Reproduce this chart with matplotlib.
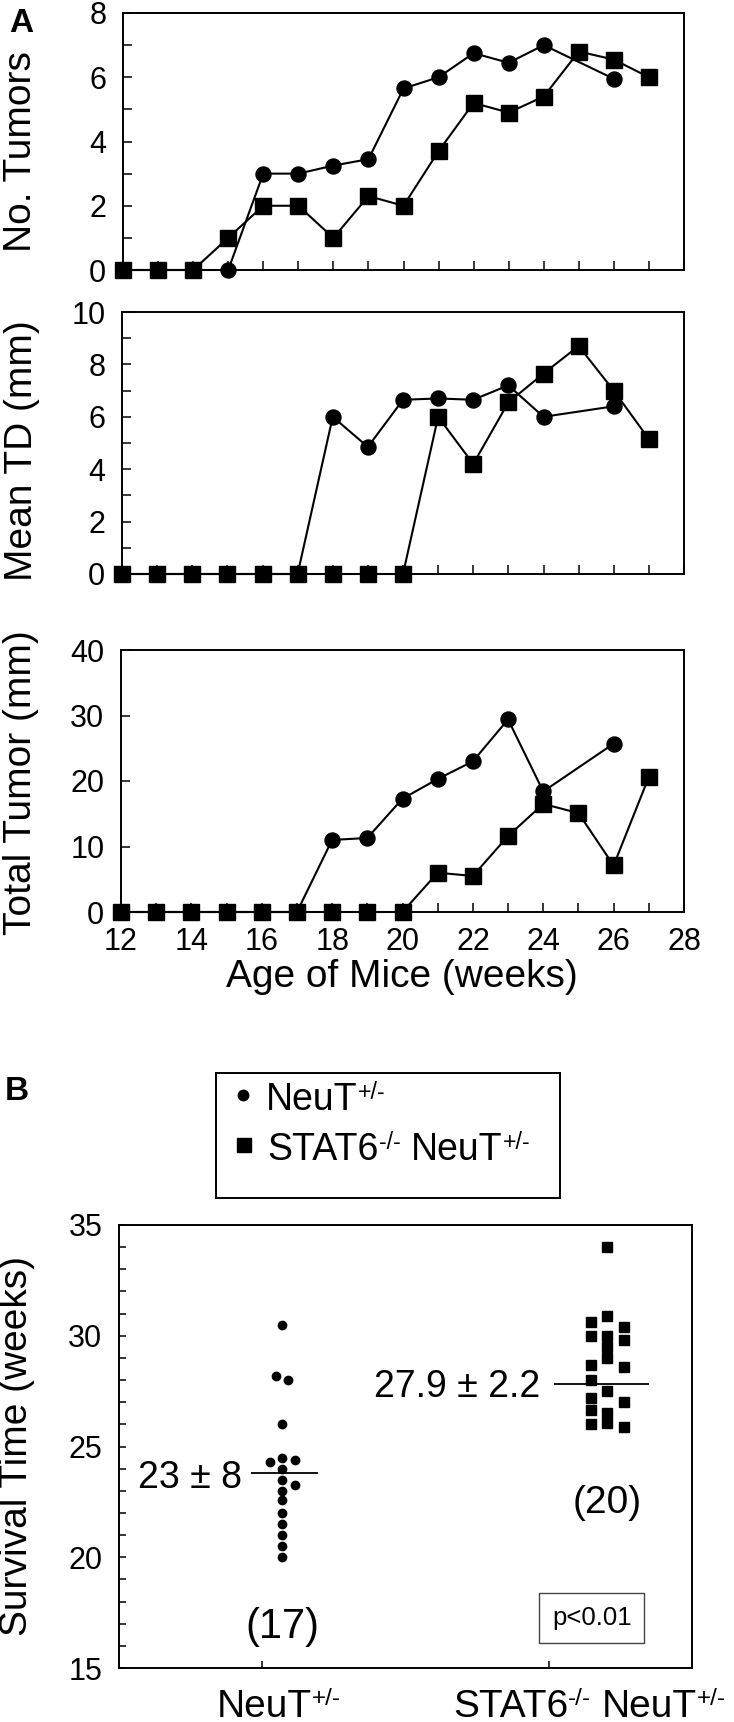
import matplotlib
matplotlib.use("Agg")
import matplotlib.pyplot as plt
from matplotlib.ticker import MultipleLocator, NullFormatter

plt.rcParams['font.family'] = ['Liberation Sans', 'DejaVu Sans']

# ---------------- data: panel A ----------------
weeks_neut = [12, 13, 14, 15, 16, 17, 18, 19, 20, 21, 22, 23, 24, 26]
weeks_stat6 = [12, 13, 14, 15, 16, 17, 18, 19, 20, 21, 22, 23, 24, 25, 26, 27]

tumors_neut = [0, 0, 0, 0, 3.0, 3.0, 3.25, 3.45, 5.65, 6.0, 6.75, 6.45, 7.0, 5.95]
tumors_stat6 = [0, 0, 0, 1.0, 2.0, 2.0, 1.0, 2.3, 2.0, 3.7, 5.2, 4.9, 5.4, 6.8, 6.55, 6.0]

td_neut = [0, 0, 0, 0, 0, 0, 6.0, 4.85, 6.65, 6.7, 6.65, 7.2, 6.0, 6.4]
td_stat6 = [0, 0, 0, 0, 0, 0, 0, 0, 0, 6.0, 4.2, 6.55, 7.65, 8.7, 7.0, 5.15]

total_neut = [0, 0, 0, 0, 0, 0, 11.0, 11.3, 17.3, 20.3, 23.0, 29.4, 18.4, 25.7]
total_stat6 = [0, 0, 0, 0, 0, 0, 0, 0, 0, 6.0, 5.5, 11.6, 16.5, 15.1, 7.1, 20.6]

panel_a_ylabels = ["No. Tumors", "Mean TD (mm)", "Total Tumor (mm)"]
panel_a_ylims = [(0, 8), (0, 10), (0, 40)]
panel_a_major = [2, 2, 10]
panel_a_minor = [1, 1, 10]
age_xlabel = "Age of Mice (weeks)"

# ---------------- data: panel B ----------------
neut_survival = [30.5, 28.2, 28.0, 26.0, 24.5, 24.3, 24.4, 24.0, 23.5, 23.25,
                 23.0, 22.6, 22.0, 21.5, 21.0, 20.5, 20.0]
stat6_survival = [34.0, 30.9, 30.6, 30.4, 30.0, 30.0, 29.8, 29.5, 29.0, 28.7,
                  28.6, 28.0, 27.5, 27.2, 27.0, 26.65, 26.5, 26.0, 26.05, 25.9]
neut_mean = 23.8
stat6_mean = 27.8
neut_text = "23 \u00b1 8"
stat6_text = "27.9 \u00b1 2.2"
neut_n = "(17)"
stat6_n = "(20)"
p_text = "p<0.01"
survival_ylabel = "Survival Time (weeks)"
# group names as (text, is_superscript) pieces
neut_label = [("NeuT", False), ("+/-", True)]
stat6_label = [("STAT6", False), ("-/-", True), ("NeuT", False), ("+/-", True)]

# layout-only (dot-plot column offsets for tied values)
neut_col = [0, -0.5, 0.5, 0, 0, -1, 1, 0, 0, 1, 0, 0, 0, 0, 0, 0, 0]
stat6_col = [0, 0, -1, 1, -1, 0, 1, 0, 0, -1, 1, -1, 0, -1, 1, -1, 0, -1, 0, 1]

W, H, DPI = 734, 1722, 100
fig = plt.figure(figsize=(W / DPI, H / DPI), dpi=DPI)


def box(l, t, r, b):
    return [l / W, 1 - b / H, (r - l) / W, (b - t) / H]


def rich_text(ax, x, y, parts, fs, transform, sup_scale=0.62, sup_frac=0.40):
    """Place base text with superscripts (hyphen-style), chained left to right."""
    base = ax.text(x, y, parts[0][0], fontsize=fs, ha='left', va='baseline',
                   transform=transform, clip_on=False)
    prev = base
    space_px = 0.278 * fs * DPI / 72.0
    for txt, is_sup in parts[1:]:
        if is_sup:
            prev = ax.annotate(txt, xy=(1.0, sup_frac), xycoords=(prev, base),
                               ha='left', va='bottom', fontsize=fs * sup_scale,
                               annotation_clip=False)
        else:
            prev = ax.annotate(txt, xy=(1.0, 0.0), xycoords=(prev, base),
                               xytext=(space_px, 0), textcoords='offset pixels',
                               ha='left', va='bottom', fontsize=fs,
                               annotation_clip=False)
    return base


LW = 1.5
TICK_FS = 22
LABEL_FS = 28

a_boxes = [(123, 13, 684, 270), (122, 312, 684, 574), (121, 650, 684, 912)]
a_series = [(tumors_neut, tumors_stat6), (td_neut, td_stat6), (total_neut, total_stat6)]
label_centers = [(21, 152), (22, 451), (21, 783)]

for i, (bx, (yn, ys)) in enumerate(zip(a_boxes, a_series)):
    ax = fig.add_axes(box(*bx))
    ax.plot(weeks_neut, yn, '-o', color='black', lw=LW, ms=10.8, clip_on=False, zorder=3)
    ax.plot(weeks_stat6, ys, '-s', color='black', lw=LW, ms=11.5, clip_on=False, zorder=4)
    ax.set_xlim(12, 28)
    ax.set_ylim(*panel_a_ylims[i])
    ax.xaxis.set_major_locator(MultipleLocator(2))
    ax.xaxis.set_minor_locator(MultipleLocator(1))
    ax.yaxis.set_major_locator(MultipleLocator(panel_a_major[i]))
    ax.yaxis.set_minor_locator(MultipleLocator(panel_a_minor[i]))
    ax.tick_params(axis='both', which='both', direction='in', length=6.5, width=1.1,
                   top=False, right=False, labelsize=TICK_FS)
    ax.tick_params(axis='y', which='both', pad=12)
    ax.tick_params(axis='x', which='both', pad=11)
    if i < 2:
        ax.xaxis.set_major_formatter(NullFormatter())
    for s in ax.spines.values():
        s.set_linewidth(1.4)
    cx, cy = label_centers[i]
    fig.text(cx / W, 1 - cy / H, panel_a_ylabels[i], rotation=90, ha='center', va='center',
             fontsize=LABEL_FS)

fig.text(402 / W, 1 - 977 / H, age_xlabel, ha='center', va='center', fontsize=LABEL_FS)
fig.text(21 / W, 1 - 24 / H, "A", ha='center', va='center', fontsize=24, fontweight='bold')
fig.text(17 / W, 1 - 1091 / H, "B", ha='center', va='center', fontsize=24, fontweight='bold')

# ---------------- panel B ----------------
axb = fig.add_axes(box(119, 1225, 692, 1668))
neut_x0, stat6_x0 = 1.07, 2.205
neut_step, stat6_step = 0.043, 0.056
nx = [neut_x0 + c * neut_step for c in neut_col]
sx = [stat6_x0 + c * stat6_step for c in stat6_col]
axb.plot(nx, neut_survival, 'o', color='black', ms=6, ls='none')
axb.plot(sx, stat6_survival, 's', color='black', ms=7.3, ls='none')
axb.hlines(neut_mean, neut_x0 - 0.11, neut_x0 + 0.125, color='black', lw=1.3)
axb.hlines(stat6_mean, stat6_x0 - 0.185, stat6_x0 + 0.145, color='black', lw=1.3)
axb.set_xlim(0.5, 2.5)
axb.set_ylim(15, 35)
axb.set_xticks([1, 2])
axb.xaxis.set_major_formatter(NullFormatter())
axb.yaxis.set_major_locator(MultipleLocator(5))
axb.yaxis.set_minor_locator(MultipleLocator(1))
axb.tick_params(axis='both', which='both', direction='in', length=5, width=1.1,
                top=False, right=False, labelsize=TICK_FS)
axb.tick_params(axis='y', which='both', pad=12)
for s in axb.spines.values():
    s.set_linewidth(1.4)

axb.text(0.93, 23.6, neut_text, ha='right', va='center', fontsize=27)
axb.text(1.97, 27.7, stat6_text, ha='right', va='center', fontsize=27)
axb.text(neut_x0, 16.85, neut_n, ha='center', va='center', fontsize=30)
axb.text(stat6_x0, 22.45, stat6_n, ha='center', va='center', fontsize=28)
axb.text(2.15, 17.26, p_text, ha='center', va='center', fontsize=18.5,
         bbox=dict(boxstyle='square,pad=0.5', fc='white', ec='#444444', lw=1))

# group labels under the x axis (x in data, y in axes fraction)
xt = axb.get_xaxis_transform()
rich_text(axb, 0.84, -0.11, neut_label, 28, xt)
rich_text(axb, 1.665, -0.11, stat6_label, 28, xt)

fig.text(17 / W, 1 - 1446 / H, survival_ylabel, rotation=90, ha='center',
         va='center', fontsize=LABEL_FS)

# ---------------- legend (manual box) ----------------
lax = fig.add_axes(box(216, 1073, 560, 1198))
lax.set_xlim(0, 1)
lax.set_ylim(0, 1)
lax.set_xticks([])
lax.set_yticks([])
for s in lax.spines.values():
    s.set_linewidth(1.4)
lax.plot([0.079], [0.824], 'o', color='black', ms=7.5)
lax.plot([0.081], [0.424], 's', color='black', ms=10)
rich_text(lax, 0.145, 0.704, neut_label, 27, lax.transAxes)
rich_text(lax, 0.149, 0.304, stat6_label, 27, lax.transAxes)

fig.savefig("out.png", dpi=DPI)
